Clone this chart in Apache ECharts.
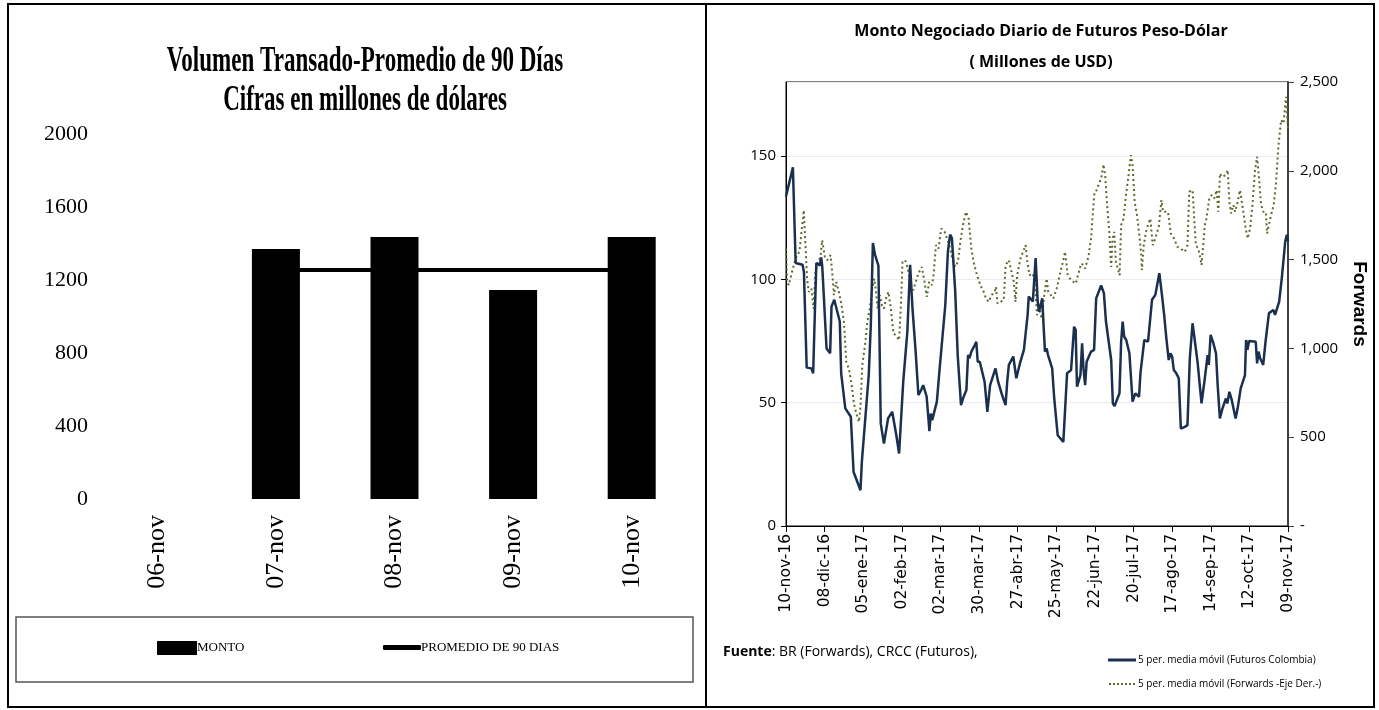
<!DOCTYPE html>
<html>
<head>
<meta charset="utf-8">
<script src="https://cdn.jsdelivr.net/npm/echarts@6/dist/echarts.min.js"></script>
<style>
html,body{margin:0;padding:0;background:#fff;}
#chart{width:1379px;height:710px;}
</style>
</head>
<body>
<div id="chart"></div>
<script>
// ---------- Left chart data ----------
const barCategories = ['06-nov', '07-nov', '08-nov', '09-nov', '10-nov'];
const montoValues = [null, 1370, 1435, 1145, 1435];
const promedioValues = [null, 1255, 1255, 1255, 1255];

// ---------- Right chart data ----------
const dateTickLabels = ['10-nov-16', '08-dic-16', '05-ene-17', '02-feb-17', '02-mar-17', '30-mar-17',
  '27-abr-17', '25-may-17', '22-jun-17', '20-jul-17', '17-ago-17', '14-sep-17', '12-oct-17', '09-nov-17'];

// day offsets from 10-nov-16 and values (Futuros, left axis)
const futurosDays = [0, 1, 5, 7, 12, 13, 15, 18.4, 19.7, 20.6, 22, 24.5, 25.5, 26.3, 29.4, 32, 33, 35, 39, 40,
  43, 47, 49, 54, 55, 60, 61.5, 63, 64.5, 67, 68.7, 71, 74, 77, 80, 82, 85, 88, 90, 91.7,
  94, 96, 98, 99.5, 102, 104, 105, 106, 109.4, 111, 112, 115.5, 117.4, 119, 120.3, 122.7, 124.5, 126.9, 128.8, 130.8,
  132, 133, 134.4, 136.3, 138, 139, 140.5, 144, 146, 148, 151.9, 153.8, 156.7, 159.2, 160.4, 161.6, 164.8, 167, 169.6, 172.5,
  173.7, 175.2, 176, 179, 179.8, 181, 182.5, 183.5, 185.8, 187, 187.8, 189, 190, 193, 194.5, 197, 201.1, 203.8, 206.7, 207.7,
  208.9, 210, 211, 213.5, 214.7, 215.7, 216.9, 218, 221.2, 222.2, 223.4, 224.9, 228.5, 230.5, 232, 235.8, 237, 238.2, 241.8, 243,
  244.1, 245.2, 246.7, 249, 251.3, 253.3, 256, 257, 258.3, 259.8, 262.5, 265.4, 266.6, 267.8, 270.7, 272.6, 274.2, 275.8, 277.5, 278.8,
  280, 281.2, 283, 284.8, 286.3, 289.2, 291.1, 292.8, 294.8, 298.4, 301.3, 303.7, 305.7, 306.6, 307.9, 309.9, 311.8, 313, 314.6, 316.5,
  319, 320, 321.5, 323.2, 326, 327.5, 328.7, 329.7, 332.8, 333.6, 334.6, 335.8, 340.6, 341.6, 342.6, 343.8, 346, 347.7, 350.2, 353.4,
  354.6, 357.6, 359.5, 362, 363.2, 364];
const futurosValues = [133.6, 133.6, 145.4, 106.6, 105.9, 103, 64.2, 63.9, 61.9, 80.2, 106.6, 105.6, 108.9, 105.2, 72, 70, 89, 91.7, 82.9, 61.9,
  47.7, 44.3, 21.9, 14.5, 26, 61.2, 81.5, 114.7, 110, 105.6, 41.6, 33.4, 43.6, 46.3, 36.8, 29.4, 58.5, 78.8, 105.9, 88.3,
  70.7, 53.1, 55.1, 57.1, 52.4, 38.5, 45.6, 42.9, 50.4, 61.2, 60.5, 89.6, 111.3, 118.1, 116.7, 95.1, 69.3, 49, 52.4, 55.1,
  69.3, 68, 70.7, 72.7, 74.7, 66.6, 66.6, 58.5, 46.3, 57.1, 63.9, 58.5, 53.1, 49, 58.5, 65.3, 68.7, 59.9, 65.9, 71.4,
  70.7, 85.6, 93, 91, 90.3, 108.6, 91, 86.9, 92.3, 78.8, 70.7, 72, 69.3, 63.9, 51.7, 36.8, 34.1, 61.9, 63.2, 63.2,
  80.8, 79.5, 56.5, 61.2, 74.1, 63.9, 57.1, 66.6, 70.7, 70, 71.4, 92.3, 97.5, 94.4, 82.9, 67.3, 49.7, 48.6, 53.8, 74.7,
  82.9, 76.8, 75.4, 70, 50.4, 53.8, 52.4, 61.9, 61.9, 75.4, 74.7, 91.7, 91, 93.7, 102.5, 93.7, 85.6, 76.1, 67.3, 70,
  68.7, 63.2, 61.9, 59.9, 39.5, 40.2, 40.9, 68, 82.2, 66.6, 49.7, 59.9, 69.3, 65.3, 77.5, 74.1, 70, 57.1, 43.6, 47.7,
  51.7, 49.7, 54.4, 51.1, 43.6, 47.7, 47, 55.8, 61.2, 75.4, 71.4, 75, 74.7, 65.9, 70.7, 68, 65.3, 74.7, 86.3, 87.6,
  85.6, 91, 100.5, 115.4, 118.1, 115.4];

// day offsets from 10-nov-16 and values (Forwards, right axis)
const forwardsDays = [0, 0.8, 2, 4.4, 6.3, 8, 9.7, 11, 12.9, 14, 15.3, 16.5, 18.4, 20, 21.4, 23.3, 25, 26.2, 28.2, 29.9,
  32.3, 33.5, 34.7, 36.4, 38.3, 40.3, 42, 43.7, 45.6, 47.6, 49.3, 51, 52.9, 54.1, 55.3, 57.3, 59, 60.7, 62.6, 64,
  65, 66.5, 68, 69.5, 71, 72.8, 74.3, 76, 77.9, 79.6, 82, 83.2, 84.5, 86.4, 88, 89.3, 90.7, 92.4, 94.1, 96,
  98.5, 100.4, 102.1, 103.8, 105.8, 107, 108.7, 110.6, 112.6, 115, 116.7, 118.4, 120.3, 122.7, 124.7, 126.4, 128.3, 130.5, 132.4, 134.4,
  136, 138.5, 140.9, 143.4, 145, 147, 149, 151.3, 152.3, 153.3, 155.5, 157.9, 159.2, 161.6, 163.5, 165.2, 166.4, 167.6, 170, 173.7,
  175, 176.6, 179, 181, 182, 183.5, 185.3, 187.3, 189, 190.2, 192.1, 193.8, 196.3, 198.7, 201.1, 202.3, 203.5, 204.3, 206.7, 208.4,
  210.1, 212.1, 214, 215.7, 216.9, 219.3, 221.2, 222.2, 223.7, 225.3, 226.6, 228.5, 230.2, 231.4, 232.7, 234.4, 235.8, 236.8, 238, 239.2,
  240.6, 241.9, 243, 244.8, 246.5, 248.4, 250.1, 251.3, 252.8, 254.5, 256.2, 257.6, 258.1, 259.4, 261, 262.5, 264.2, 265.9, 267.8, 270.3,
  272.2, 273.4, 275.2, 277, 279, 281.4, 283.8, 286.3, 289.2, 291.1, 292.4, 294.8, 296, 297.2, 298.9, 300.1, 301.3, 302.5, 303.7, 304.9,
  306.9, 308.6, 310.5, 312.3, 313.5, 314.7, 315.9, 318.8, 320.3, 321.5, 322.7, 324.4, 325.6, 327.5, 329.2, 331.6, 333.3, 334.8, 336.5, 338.2,
  340.1, 341.6, 343, 344.5, 346.2, 347.9, 348.8, 350.2, 351.7, 353.6, 355.2, 357.1, 359, 360.8, 362.5, 363.2, 364];
const forwardsValues = [1562, 1375, 1356, 1431, 1487, 1525, 1544, 1638, 1778, 1600, 1393, 1318, 1337, 1224, 1431, 1487, 1516, 1609, 1516, 1497,
  1525, 1431, 1300, 1375, 1318, 1243, 1149, 924, 886, 793, 689, 633, 586, 680, 905, 1018, 1149, 1224, 1337, 1393,
  1337, 1224, 1300, 1243, 1224, 1290, 1318, 1224, 1084, 1074, 1046, 1224, 1487, 1497, 1459, 1412, 1356, 1328, 1375, 1422,
  1459, 1375, 1290, 1375, 1356, 1412, 1581, 1562, 1675, 1656, 1619, 1581, 1516, 1459, 1487, 1600, 1694, 1769, 1731, 1562,
  1487, 1412, 1356, 1318, 1281, 1262, 1300, 1318, 1347, 1253, 1262, 1271, 1469, 1497, 1431, 1375, 1262, 1412, 1506, 1581,
  1487, 1412, 1422, 1318, 1187, 1224, 1168, 1300, 1393, 1318, 1300, 1281, 1337, 1422, 1497, 1544, 1469, 1412, 1384, 1375,
  1365, 1422, 1478, 1469, 1450, 1516, 1619, 1731, 1882, 1891, 1919, 1957, 2036, 1976, 1825, 1656, 1459, 1619, 1656, 1487,
  1450, 1412, 1694, 1731, 1863, 1976, 2088, 2032, 1825, 1750, 1638, 1525, 1441, 1581, 1656, 1694, 1731, 1581, 1619, 1685,
  1835, 1769, 1769, 1769, 1647, 1619, 1572, 1562, 1544, 1581, 1882, 1891, 1731, 1581, 1562, 1525, 1469, 1581, 1694, 1731,
  1844, 1863, 1844, 1891, 1769, 1985, 1966, 1976, 2004, 1825, 1760, 1807, 1769, 1825, 1891, 1769, 1675, 1619, 1675, 1807,
  2004, 2079, 1957, 1807, 1769, 1769, 1647, 1656, 1750, 1807, 1919, 2145, 2286, 2267, 2417, 2333, 2239];

const serif = '"Liberation Serif", "Times New Roman", serif';
const narrow = '"Liberation Sans Narrow", "Open Sans", "Noto Sans", sans-serif';
const dottedIcon = 'path://M0,0h2v2h-2zM4,0h2v2h-2zM8,0h2v2h-2zM12,0h2v2h-2zM16,0h2v2h-2zM20,0h2v2h-2zM24,0h2v2h-2z';

const chart = echarts.init(document.getElementById('chart'), null, {renderer: 'canvas'});

const option = {
  backgroundColor: '#ffffff',
  animation: false,
  grid: [
    {left: 98, right: 1379 - 691, top: 134, bottom: 710 - 499, containLabel: false},
    {left: 786, right: 1379 - 1288, top: 82, bottom: 710 - 526, containLabel: false,
      show: true, borderColor: '#000', borderWidth: 1, backgroundColor: 'transparent'}
  ],
  xAxis: [
    {
      gridIndex: 0, type: 'category', data: barCategories,
      axisLine: {show: false}, axisTick: {show: false},
      axisLabel: {rotate: 90, fontFamily: serif, fontSize: 26, color: '#000', margin: 16}
    },
    {
      gridIndex: 1, type: 'value', min: 0, max: 364, interval: 28,
      axisLine: {show: true, lineStyle: {color: '#000', width: 1}},
      axisTick: {show: true, length: 6, lineStyle: {color: '#000'}},
      splitLine: {show: false},
      axisLabel: {
        rotate: 90, fontFamily: '"DejaVu Sans", Verdana, sans-serif', fontSize: 15.5, color: '#000', margin: 8,
        formatter: function (v) { return dateTickLabels[Math.round(v / 28)] || ''; }
      }
    }
  ],
  yAxis: [
    {
      gridIndex: 0, type: 'value', min: 0, max: 2000, interval: 400,
      axisLine: {show: false}, axisTick: {show: false}, splitLine: {show: false},
      axisLabel: {fontFamily: serif, fontSize: 22, color: '#000', margin: 10,
        formatter: function (v) { return String(v); }}
    },
    {
      gridIndex: 1, type: 'value', min: 0, max: 180, interval: 50,
      axisLine: {show: true, lineStyle: {color: '#000', width: 1}},
      axisTick: {show: true, length: 5, lineStyle: {color: '#000'}},
      splitLine: {show: true, lineStyle: {color: '#ececec', width: 1}},
      axisLabel: {fontFamily: narrow, fontSize: 15, color: '#000', margin: 10, showMaxLabel: false}
    },
    {
      gridIndex: 1, type: 'value', min: 0, max: 2500, interval: 500, position: 'right',
      axisLine: {show: true, lineStyle: {color: '#404040', width: 2}},
      axisTick: {show: true, length: 6, lineStyle: {color: '#404040'}},
      splitLine: {show: false},
      axisLabel: {
        fontFamily: narrow, fontSize: 15, color: '#000', margin: 12,
        formatter: function (v) { return v === 0 ? '-' : v.toLocaleString('en-US'); }
      },
      name: 'Forwards', nameLocation: 'middle', nameRotate: -90, nameGap: 62,
      nameTextStyle: {fontFamily: '"Liberation Sans", Arial, sans-serif', fontWeight: 'bold', fontSize: 19, color: '#000'}
    }
  ],
  legend: [
    {
      data: [{name: 'MONTO', icon: 'rect'}], left: 157, top: 641, padding: 0,
      itemWidth: 40, itemHeight: 14, selectedMode: false,
      textStyle: {fontFamily: serif, fontSize: 13, color: '#000', padding: [0, 0, 0, -5]}
    },
    {
      data: [{name: 'PROMEDIO DE 90 DIAS', icon: 'roundRect'}], left: 383, top: 641, padding: 0,
      itemWidth: 38, itemHeight: 5, selectedMode: false,
      textStyle: {fontFamily: serif, fontSize: 13, color: '#000', padding: [0, 0, 0, -5]}
    },
    {
      data: [{name: '5 per. media móvil (Futuros Colombia)', icon: 'rect'}],
      left: 1108, top: 655, padding: 0, itemWidth: 28, itemHeight: 3, selectedMode: false,
      textStyle: {fontFamily: narrow, fontSize: 10, color: '#000', padding: [0, 0, 0, -3]}
    },
    {
      data: [{name: '5 per. media móvil (Forwards -Eje Der.-)', icon: dottedIcon}],
      left: 1109, top: 679, padding: 0, itemWidth: 26, itemHeight: 2, selectedMode: false,
      textStyle: {fontFamily: narrow, fontSize: 10, color: '#000', padding: [0, 0, 0, -2]}
    }
  ],
  series: [
    {
      name: 'MONTO', type: 'bar', xAxisIndex: 0, yAxisIndex: 0, data: montoValues,
      barWidth: 48, itemStyle: {color: '#000'}
    },
    {
      name: 'PROMEDIO DE 90 DIAS', type: 'line', xAxisIndex: 0, yAxisIndex: 0, data: promedioValues,
      symbol: 'none', lineStyle: {color: '#000', width: 4}, itemStyle: {color: '#000'}
    },
    {
      name: '5 per. media móvil (Futuros Colombia)', type: 'line', xAxisIndex: 1, yAxisIndex: 1,
      data: futurosDays.map(function (d, i) { return [d, futurosValues[i]]; }),
      symbol: 'none', lineStyle: {color: '#1b2f4f', width: 2.5}, itemStyle: {color: '#1b2f4f'}, z: 3
    },
    {
      name: '5 per. media móvil (Forwards -Eje Der.-)', type: 'line', xAxisIndex: 1, yAxisIndex: 2,
      data: forwardsDays.map(function (d, i) { return [d, forwardsValues[i]]; }),
      symbol: 'none', lineStyle: {color: '#586b2b', width: 2, type: [2, 3]}, itemStyle: {color: '#586b2b'}, z: 2
    }
  ],
  graphic: [
    // outer frame and divider
    {type: 'rect', shape: {x: 8, y: 4, width: 1366, height: 703}, style: {fill: 'none', stroke: '#000', lineWidth: 2}, silent: true},
    {type: 'line', shape: {x1: 706, y1: 4, x2: 706, y2: 707}, style: {stroke: '#000', lineWidth: 2}, silent: true},
    // left legend box
    {type: 'rect', shape: {x: 16, y: 617, width: 677, height: 65}, style: {fill: 'none', stroke: '#555', lineWidth: 1.5}, silent: true},
    // left titles
    {type: 'text', x: 365, y: 62, scaleX: 0.64, silent: true,
      style: {text: 'Volumen Transado-Promedio de 90 Días', font: 'bold 36px "Liberation Serif", serif', fill: '#000', align: 'center', verticalAlign: 'middle'}},
    {type: 'text', x: 365, y: 101, scaleX: 0.64, silent: true,
      style: {text: 'Cifras en millones de dólares', font: 'bold 36px "Liberation Serif", serif', fill: '#000', align: 'center', verticalAlign: 'middle'}},
    // right titles
    {type: 'text', x: 1041, y: 31, silent: true,
      style: {text: 'Monto Negociado Diario de Futuros Peso-Dólar', font: 'bold 16px "Liberation Sans Narrow", "Open Sans", sans-serif', fill: '#000', align: 'center', verticalAlign: 'middle'}},
    {type: 'text', x: 1041, y: 62, silent: true,
      style: {text: '( Millones de USD)', font: 'bold 16px "Liberation Sans Narrow", "Open Sans", sans-serif', fill: '#000', align: 'center', verticalAlign: 'middle'}},
    // source note
    {type: 'text', x: 723, y: 652, silent: true,
      style: {
        text: '{b|Fuente}: BR (Forwards), CRCC (Futuros),', verticalAlign: 'middle',
        font: '14px "Liberation Sans Narrow", "Open Sans", sans-serif', fill: '#000',
        rich: {b: {fontWeight: 'bold', fontSize: 14, fontFamily: '"Liberation Sans Narrow", "Open Sans", sans-serif', fill: '#000'}}
      }}
  ]
};
chart.setOption(option);
</script>
</body>
</html>
